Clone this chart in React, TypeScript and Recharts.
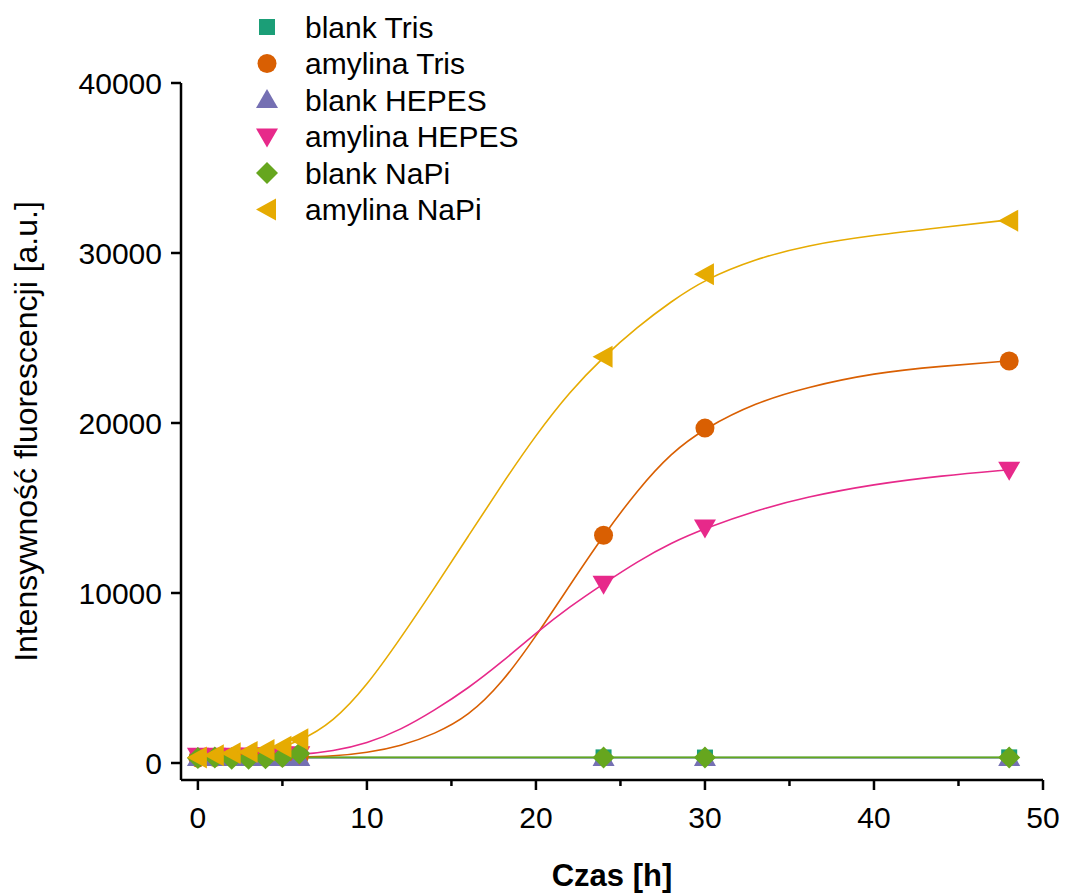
import React from 'react'
import {
  ComposedChart,
  Line,
  Scatter,
  XAxis,
  YAxis,
  Legend,
  Label,
} from 'recharts'

// measurement times [h]
const times = [0, 1, 2, 3, 4, 5, 6, 24, 30, 48]

// measured intensities
const blankTris = [340, 330, 320, 330, 330, 320, 330, 330, 320, 330]
const amylinaTris = [300, 320, 330, 330, 340, 350, 380, 13400, 19700, 23650]
const blankHepes = [290, 300, 290, 300, 290, 300, 300, 300, 300, 300]
const amylinaHepes = [430, 420, 430, 440, 450, 480, 520, 10550, 13850, 17250]
const blankNapi = [300, 330, 250, 250, 280, 350, 560, 330, 330, 330]
const amylinaNapi = [330, 450, 580, 650, 760, 960, 1400, 23900, 28750, 31900]

// fitted curves
const fitX = [0, 2, 4, 6, 8, 10, 12, 14, 16, 18, 20, 22, 24, 26, 28, 30, 33, 36, 40, 44, 48]
const fitTris = [330, 330, 330, 340, 400, 600, 1000, 1700, 2750, 4700, 7450, 10450, 13400, 16050, 18250, 19700, 21200, 22100, 22950, 23350, 23650]
const fitHepes = [430, 435, 440, 480, 700, 1150, 1950, 3100, 4400, 5950, 7650, 9200, 10550, 11850, 12950, 13800, 14850, 15650, 16400, 16900, 17250]
const fitNapi = [330, 420, 620, 1250, 2400, 4550, 7350, 10300, 13350, 16400, 19300, 21850, 23900, 25650, 27150, 28450, 29650, 30450, 31050, 31500, 31950]
const blankLevelX = [0, 48]
const blankLevelTris = [320, 320]
const blankLevelHepes = [310, 310]
const blankLevelNapi = [330, 330]

const xTicks = [0, 5, 10, 15, 20, 25, 30, 35, 40, 45, 50]
const yTicks = [0, 10000, 20000, 30000, 40000]

const FONT = '"Liberation Sans", Arial, sans-serif'

const pts = (ys: number[]) => times.map((t, i) => ({ x: t, y: ys[i] }))
const fit = (xs: number[], ys: number[]) => xs.map((t, i) => ({ x: t, y: ys[i] }))

type Kind = 'square' | 'circle' | 'up' | 'down' | 'diamond' | 'left'

const Marker = ({ kind, cx, cy, color }: { kind: Kind; cx: number; cy: number; color: string }) => {
  switch (kind) {
    case 'square':
      return <rect x={cx - 8} y={cy - 8} width={16} height={16} fill={color} />
    case 'circle':
      return <circle cx={cx} cy={cy} r={9.5} fill={color} />
    case 'up':
      return <polygon points={`${cx},${cy - 11} ${cx + 11},${cy + 8} ${cx - 11},${cy + 8}`} fill={color} />
    case 'down':
      return <polygon points={`${cx - 11},${cy - 8} ${cx + 11},${cy - 8} ${cx},${cy + 11}`} fill={color} />
    case 'diamond':
      return <polygon points={`${cx},${cy - 11} ${cx + 11},${cy} ${cx},${cy + 11} ${cx - 11},${cy}`} fill={color} />
    default:
      return <polygon points={`${cx - 11},${cy} ${cx + 9},${cy - 11} ${cx + 9},${cy + 11}`} fill={color} />
  }
}

const series = [
  { name: 'blank Tris', color: '#1b9e77', kind: 'square' as Kind, data: pts(blankTris), fit: fit(blankLevelX, blankLevelTris) },
  { name: 'amylina Tris', color: '#d95f02', kind: 'circle' as Kind, data: pts(amylinaTris), fit: fit(fitX, fitTris) },
  { name: 'blank HEPES', color: '#7570b3', kind: 'up' as Kind, data: pts(blankHepes), fit: fit(blankLevelX, blankLevelHepes) },
  { name: 'amylina HEPES', color: '#e7298a', kind: 'down' as Kind, data: pts(amylinaHepes), fit: fit(fitX, fitHepes) },
  { name: 'blank NaPi', color: '#66a61e', kind: 'diamond' as Kind, data: pts(blankNapi), fit: fit(blankLevelX, blankLevelNapi) },
  { name: 'amylina NaPi', color: '#e6ab02', kind: 'left' as Kind, data: pts(amylinaNapi), fit: fit(fitX, fitNapi) },
]

const XTick = (props: any) => {
  const { x, y, payload } = props
  const major = payload.value % 10 === 0
  return (
    <g>
      <line x1={x} x2={x} y1={y} y2={y + (major ? 10 : 6)} stroke='#000' strokeWidth={2.5} />
      {major && (
        <text x={x} y={y + 48} textAnchor='middle' fontSize={30} fontFamily={FONT} fill='#000'>
          {payload.value}
        </text>
      )}
    </g>
  )
}

const YTick = (props: any) => {
  const { x, y, payload } = props
  return (
    <g>
      <line x1={x - 10} x2={x} y1={y} y2={y} stroke='#000' strokeWidth={2.5} />
      <text x={x - 19} y={y + 11} textAnchor='end' fontSize={30} fontFamily={FONT} fill='#000'>
        {payload.value}
      </text>
    </g>
  )
}

const LegendBox = () => (
  <svg width={340} height={240}>
    {series.map((s, i) => (
      <g key={s.name}>
        <Marker kind={s.kind} cx={17} cy={27 + i * 36.5} color={s.color} />
        <text x={55} y={27 + i * 36.5 + 10.5} fontSize={30} fontFamily={FONT} fill='#000'>
          {s.name}
        </text>
      </g>
    ))}
  </svg>
)

const App = () => {
  return (
    <div style={{ position: 'absolute', left: 0, top: 0, background: '#fff' }}>
      <ComposedChart width={1065} height={894} margin={{ top: 83, right: 22, bottom: 0, left: 0 }}>
        <XAxis
          type='number'
          dataKey='x'
          domain={[-1, 50]}
          ticks={xTicks}
          allowDataOverflow
          height={114}
          axisLine={{ stroke: '#000', strokeWidth: 2.5 }}
          tickLine={false}
          tickSize={0}
          tickMargin={0}
          tick={<XTick />}
          interval={0}
        >
          <Label
            value='Czas [h]'
            position='insideBottom'
            offset={8}
            style={{ fontSize: 31, fontWeight: 'bold', fontFamily: FONT, fill: '#000' }}
          />
        </XAxis>
        <YAxis
          type='number'
          dataKey='y'
          domain={[-1000, 40000]}
          ticks={yTicks}
          allowDataOverflow
          width={181}
          axisLine={{ stroke: '#000', strokeWidth: 2.5 }}
          tickLine={false}
          tickSize={0}
          tickMargin={0}
          tick={<YTick />}
          interval={0}
        >
          <Label
            value='Intensywność fluorescencji [a.u.]'
            angle={-90}
            position='insideLeft'
            offset={26}
            style={{ textAnchor: 'middle', fontSize: 32, fontFamily: FONT, fill: '#000' }}
          />
        </YAxis>
        <Legend
          layout='vertical'
          align='center'
          verticalAlign='middle'
          content={() => <LegendBox />}
          wrapperStyle={{ top: 0, left: 250, width: 340, height: 240 }}
        />
        {series.map((s) => (
          <Line
            key={'fit-' + s.name}
            data={s.fit}
            dataKey='y'
            type='basis'
            stroke={s.color}
            strokeWidth={1.6}
            dot={false}
            activeDot={false}
            legendType='none'
            isAnimationActive={false}
          />
        ))}
        {series.map((s) => (
          <Scatter
            key={s.name}
            name={s.name}
            data={s.data}
            dataKey='y'
            fill={s.color}
            shape={(p: any) => <Marker kind={s.kind} cx={p.cx} cy={p.cy} color={s.color} />}
            isAnimationActive={false}
          />
        ))}
      </ComposedChart>
    </div>
  )
}

export default App
